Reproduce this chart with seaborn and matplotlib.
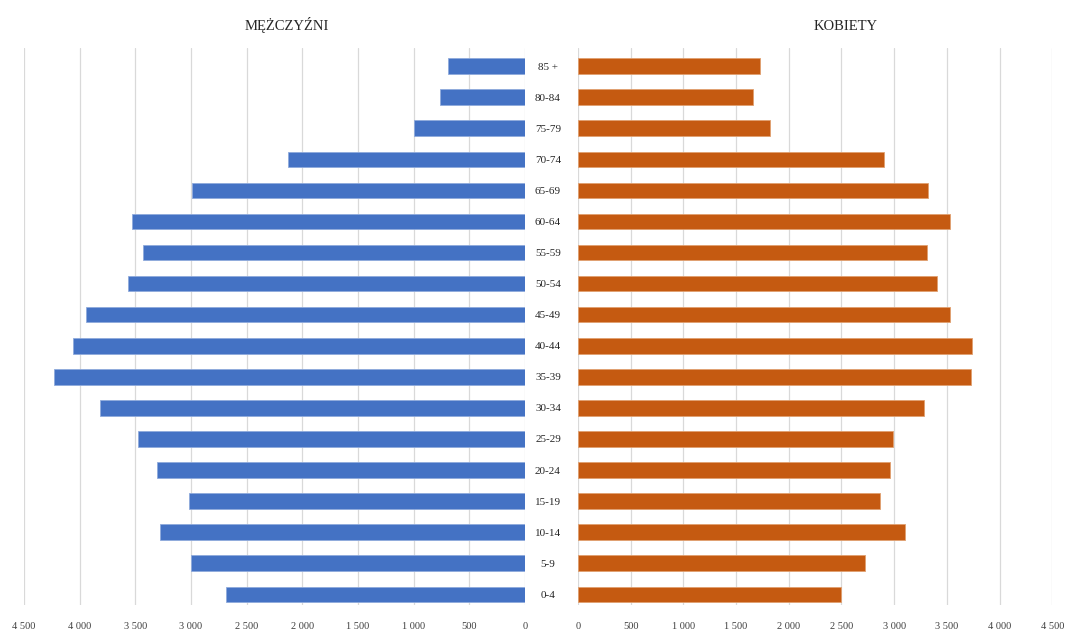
import numpy as np
import pandas as pd
import seaborn as sns
import matplotlib.pyplot as plt
from matplotlib.ticker import FuncFormatter

age_groups = ['85 +', '80-84', '75-79', '70-74', '65-69', '60-64', '55-59', '50-54',
              '45-49', '40-44', '35-39', '30-34', '25-29', '20-24', '15-19', '10-14',
              '5-9', '0-4']
men = [690, 765, 1000, 2130, 2990, 3530, 3430, 3565, 3940, 4060, 4235, 3815,
       3475, 3305, 3020, 3280, 3000, 2685]
women = [1725, 1660, 1820, 2905, 3320, 3530, 3310, 3405, 3530, 3740, 3730, 3285,
         2990, 2960, 2865, 3105, 2725, 2495]

df = pd.DataFrame({'Wiek': age_groups, 'Mezczyzni': men, 'Kobiety': women})

sns.set_style('white')
plt.rcParams['font.family'] = ['Liberation Serif', 'DejaVu Serif']

fig = plt.figure(figsize=(10.67, 6.33), dpi=100)
ax_m = fig.add_axes([0.0225, 0.044, 0.4695, 0.88])
ax_k = fig.add_axes([0.5417, 0.044, 0.4445, 0.88])

fmt = FuncFormatter(lambda v, p: f'{int(v):,}'.replace(',', ' '))

sns.barplot(data=df, x='Mezczyzni', y='Wiek', orient='h', color='#4472C4',
            saturation=1, width=0.5, edgecolor='#8faadc', linewidth=0.6,
            ax=ax_m, zorder=3)
sns.barplot(data=df, x='Kobiety', y='Wiek', orient='h', color='#C55A11',
            saturation=1, width=0.5, edgecolor='#e0a070', linewidth=0.6,
            ax=ax_k, zorder=3)

for ax in (ax_m, ax_k):
    ax.set_xticks(np.arange(0, 4501, 500))
    ax.xaxis.set_major_formatter(fmt)
    ax.grid(axis='x', color='#d9d9d9', linewidth=0.9, zorder=0)
    ax.set_axisbelow(True)
    for s in ax.spines.values():
        s.set_visible(False)
    ax.tick_params(axis='x', length=0, labelsize=7.5, colors='#404040', pad=12)
    ax.set_xlabel('')
    ax.set_ylabel('')
    ax.set_ylim(17.35, -0.58)

ax_m.set_xlim(4500, 0)
ax_k.set_xlim(0, 4500)

ax_m.set_yticks([])
ax_k.tick_params(axis='y', length=0, labelsize=8, colors='#262626', pad=21.6)
for lbl in ax_k.get_yticklabels():
    lbl.set_horizontalalignment('center')

fig.text(0.269, 0.96, 'MĘŻCZYŹNI', ha='center', va='center', fontsize=10.5, color='#262626')
fig.text(0.793, 0.958, 'KOBIETY', ha='center', va='center', fontsize=10.5, color='#262626')

plt.savefig('out.png', dpi=100)
